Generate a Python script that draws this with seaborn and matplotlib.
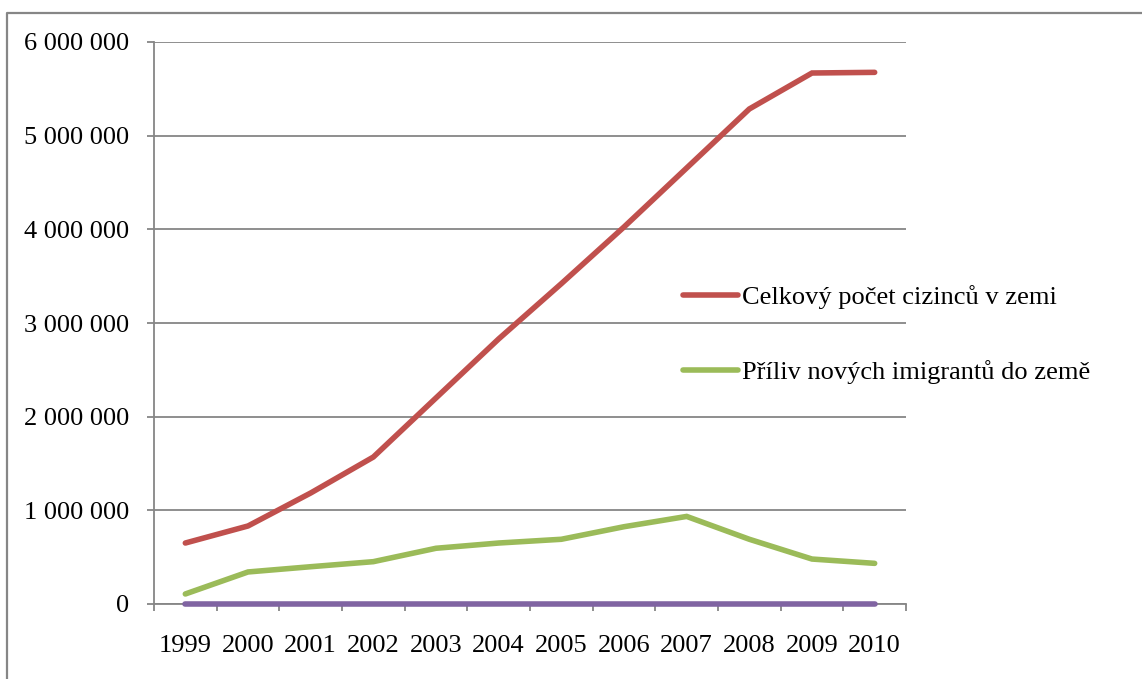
import matplotlib
matplotlib.use("Agg")
import matplotlib.pyplot as plt
from matplotlib.lines import Line2D
from matplotlib.ticker import FuncFormatter, FixedLocator
import numpy as np
import pandas as pd
import seaborn as sns

# Data
years = [1999, 2000, 2001, 2002, 2003, 2004, 2005, 2006, 2007, 2008, 2009, 2010]
foreigners_total = [651000, 833000, 1185000, 1569000, 2200000, 2830000,
                    3420000, 4025000, 4655000, 5285000, 5669000, 5676000]
new_immigrants = [107000, 342000, 398000, 452000, 595000, 651000,
                  691000, 825000, 935000, 691000, 480000, 434000]
third_series = [0, 0, 0, 0, 0, 0, 0, 0, 0, 0, 0, 0]

label_total = "Celkový počet cizinců v zemi"
label_new = "Příliv nových imigrantů do země"

df = pd.DataFrame({
    "rok": years * 3,
    "hodnota": foreigners_total + new_immigrants + third_series,
    "serie": [label_total] * 12 + [label_new] * 12 + ["_s3"] * 12,
})

sns.set_theme(style="white")
plt.rcParams["font.family"] = ["Liberation Serif", "DejaVu Serif"]
plt.rcParams["text.color"] = "black"

W, H = 1142, 679
fig = plt.figure(figsize=(W / 100, H / 100), dpi=100)
ax = fig.add_axes([154 / W, 1 - 604 / H, (906 - 154) / W, (604 - 42) / H])

colors = {label_total: "#C0504D", label_new: "#9BBB59", "_s3": "#8064A2"}
for name in [label_total, label_new, "_s3"]:
    sub = df[df["serie"] == name]
    sns.lineplot(data=sub, x="rok", y="hodnota", ax=ax, color=colors[name],
                 linewidth=4.0, solid_capstyle="round", solid_joinstyle="miter",
                 label=None if name.startswith("_") else name, legend=False,
                 clip_on=False, zorder=3)

grid_c = "#868686"
ax.set_xlim(years[0] - 0.5, years[-1] + 0.5)
ax.set_ylim(0, 6000000)
ax.set_yticks(np.arange(0, 6000001, 1000000))
ax.yaxis.set_major_formatter(FuncFormatter(lambda v, p: f"{int(v):,}".replace(",", " ")))
ax.set_xticks(years)
ax.set_xticklabels([str(y) for y in years])
ax.xaxis.set_minor_locator(FixedLocator([y - 0.5 for y in years] + [years[-1] + 0.5]))
ax.set_xlabel("")
ax.set_ylabel("")

ax.grid(axis="y", color=grid_c, linewidth=1.3)
ax.grid(axis="x", visible=False)
ax.set_axisbelow(True)
for side in ["top", "right"]:
    ax.spines[side].set_visible(False)
for side in ["left", "bottom"]:
    ax.spines[side].set_color(grid_c)
    ax.spines[side].set_linewidth(1.3)

ax.tick_params(axis="y", which="major", length=5, width=1.3, color=grid_c,
               pad=13, labelsize=19, labelcolor="black", left=True, direction="out")
ax.tick_params(axis="x", which="major", length=0, pad=22, labelsize=19, labelcolor="black")
ax.tick_params(axis="x", which="minor", length=5, width=1.3, color=grid_c,
               bottom=True, direction="out")

handles = [Line2D([], [], color=colors[label_total], linewidth=4.0, solid_capstyle="round"),
           Line2D([], [], color=colors[label_new], linewidth=4.0, solid_capstyle="round")]
fig.legend(handles, [label_total, label_new], loc="upper left",
           bbox_to_anchor=(683 / W, 1 - 285 / H), frameon=False, fontsize=19,
           handlelength=2.1, handletextpad=0.12, labelspacing=1.95, borderaxespad=0,
           borderpad=0, labelcolor="black")

# Outer chart border (top and left edges)
fig.add_artist(Line2D([7 / W, 7 / W, 1.0], [0.0, 1 - 13 / H, 1 - 13 / H],
                      transform=fig.transFigure, color=grid_c, linewidth=1.6))

fig.savefig("out.png", dpi=100, facecolor="white")
